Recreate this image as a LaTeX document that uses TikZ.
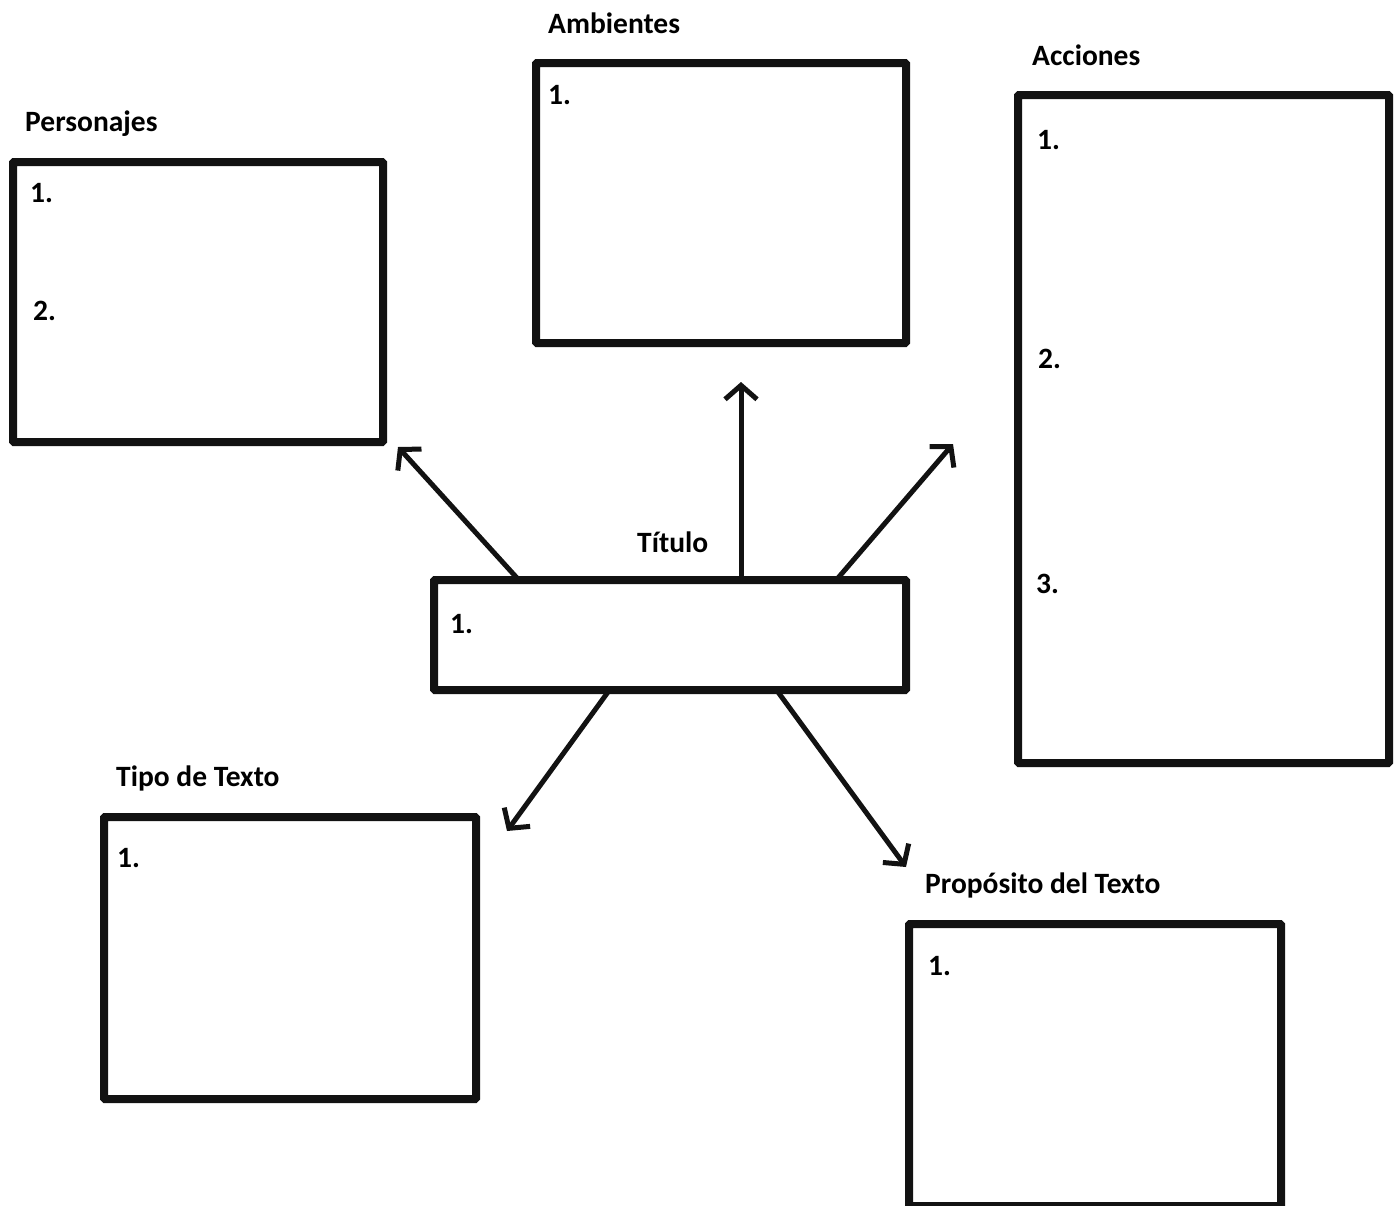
\documentclass[tikz,border=0pt]{standalone}
\usepackage{fontspec}
\setmainfont{Carlito}
\usetikzlibrary{arrows.meta}
\tikzset{
  frame/.style={draw=black!93, line width=8pt, anchor=north west, inner sep=0pt, outer sep=0pt, rounded corners=1pt},
  lbl/.style={anchor=base west, inner sep=0pt, font=\fontsize{29.5}{34}\selectfont\bfseries},
  conn/.style={line width=5pt, draw=black!93, -{Straight Barb[length=14pt,width=32pt,line width=5pt]}}
}
\begin{document}
\begin{tikzpicture}[x=1pt,y=-1pt]
\useasboundingbox (0,0) rectangle (1397,1205);
% boxes
\node[frame, minimum width=370pt, minimum height=280pt] (pers) at (13,162) {};
\node[frame, minimum width=370pt, minimum height=280pt] (amb) at (536,63) {};
\node[frame, minimum width=371pt, minimum height=668pt] (acc) at (1018,95) {};
\node[frame, minimum width=472pt, minimum height=110pt] (tit) at (434,580) {};
\node[frame, minimum width=372pt, minimum height=282pt] (tipo) at (104,817) {};
\node[frame, minimum width=372pt, minimum height=282pt] (prop) at (909,924) {};
% titles
\node[lbl] (lpers) at (25,131) {Personajes};
\node[lbl] (lamb) at (548,33) {Ambientes};
\node[lbl] (lacc) at (1032,65) {Acciones};
\node[lbl] (ltit) at (637,552) {Título};
\node[lbl] (ltipo) at (116,786) {Tipo de Texto};
\node[lbl] (lprop) at (925,893) {Propósito del Texto};
% numbers
\node[lbl] (p1) at (30,202) {1.};
\node[lbl] (p2) at (33,320) {2.};
\node[lbl] (a1n) at (548,104) {1.};
\node[lbl] (c1) at (1037,149) {1.};
\node[lbl] (c2) at (1038,368) {2.};
\node[lbl] (c3) at (1036,593) {3.};
\node[lbl] (t1n) at (450,633) {1.};
\node[lbl] (tp1) at (117,867) {1.};
\node[lbl] (pr1) at (928,975) {1.};
% arrow ends
\coordinate (s1) at (517,578);
\coordinate (s2) at (741,578);
\coordinate (s3) at (838,578);
\coordinate (s4) at (608,692);
\coordinate (s5) at (778,692);
\coordinate (e1) at (398,447);
\coordinate (e2) at (741,382);
\coordinate (e3) at (953,444);
\coordinate (e4) at (507,831);
\coordinate (e5) at (906,867);
\draw[conn] (s1) -- (e1);
\draw[conn] (s2) -- (e2);
\draw[conn] (s3) -- (e3);
\draw[conn] (s4) -- (e4);
\draw[conn] (s5) -- (e5);
\end{tikzpicture}
\end{document}
